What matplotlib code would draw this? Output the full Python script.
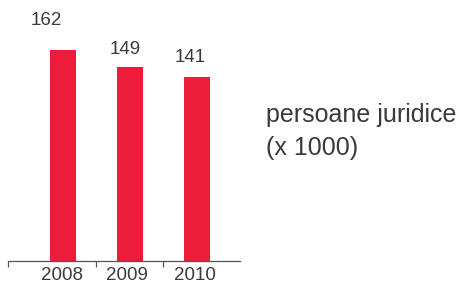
import matplotlib
matplotlib.use("Agg")
import matplotlib.pyplot as plt

years = ["2008", "2009", "2010"]
values = [162, 149, 141]
label_offsets = [(-17, 30), (-5, 17), (-7, 20)]  # px from bar top to label centre
year_offsets = [-1, -3, -2]

red = "#ed1c3a"
grey = "#3a3a3a"

plt.rcParams["font.family"] = ["Liberation Sans", "DejaVu Sans"]

fig = plt.figure(figsize=(4.64, 2.84), dpi=100)
# axes placed in pixel terms: left 8, right 240, baseline 261 from top
ax = fig.add_axes([8 / 464, 23 / 284, 232 / 464, 261 / 284])

x = list(range(len(values)))
ax.bar(x, values, width=0.39, color=red)

ax.set_xlim(-0.82, 2.64)
ax.set_ylim(0, 200.4)

px = 0.72  # pixels -> points at dpi 100
for xi, v, (dx, dy) in zip(x, values, label_offsets):
    ax.annotate(str(v), (xi, v), xytext=(dx * px, dy * px),
                textcoords="offset points", ha="center", va="center",
                fontsize=13.5, color=grey)

for s in ["top", "right", "left"]:
    ax.spines[s].set_visible(False)
ax.spines["bottom"].set_color("#555555")
ax.spines["bottom"].set_linewidth(0.9)
ax.set_yticks([])

ax.set_xticks([-0.82, 0.49, 1.49])
ax.set_xticklabels([])
ax.tick_params(axis="x", direction="out", length=4, width=0.9, color="#555555")
for xi, yr, dx in zip(x, years, year_offsets):
    ax.annotate(yr, (xi, 0), xytext=(dx * px, -15 * px), textcoords="offset points",
                ha="center", va="center", fontsize=13.5, color=grey,
                annotation_clip=False)

fig.text(266 / 464, 1 - 115 / 284, "persoane juridice", ha="left", va="center",
         fontsize=18, color=grey)
fig.text(266 / 464, 1 - 148 / 284, "(x 1000)", ha="left", va="center",
         fontsize=18, color=grey)

fig.savefig("out.png", dpi=100)
